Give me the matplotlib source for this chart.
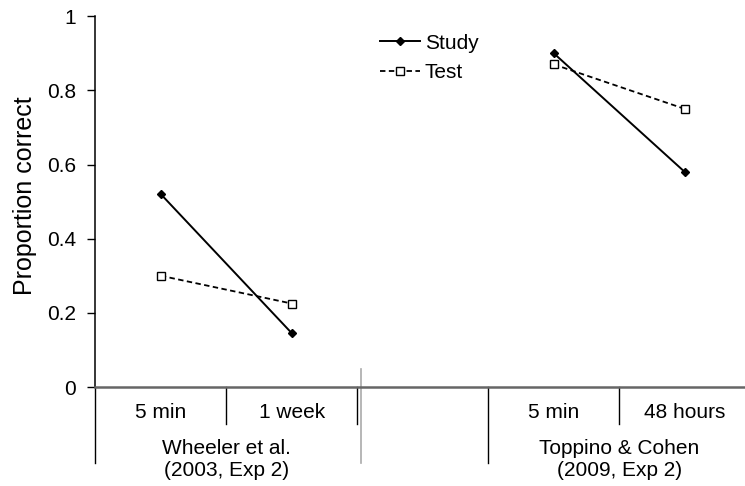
import numpy as np
from matplotlib import pyplot as plt
from matplotlib import transforms

plt.rcParams["font.family"] = ["Liberation Sans", "DejaVu Sans"]

# データ
conditions = ["5 min", "1 week", "", "5 min", "48 hours"]
study = [0.52, 0.145, np.nan, 0.90, 0.58]
test = [0.30, 0.225, np.nan, 0.87, 0.75]
group_labels = ["Wheeler et al.\n(2003, Exp 2)", "Toppino & Cohen\n(2009, Exp 2)"]
group_members = [[0, 1], [3, 4]]
y_ticks = [0, 0.2, 0.4, 0.6, 0.8, 1]
y_tick_labels = ["0", "0.2", "0.4", "0.6", "0.8", "1"]

fig = plt.figure(figsize=(7.45, 4.86), dpi=100)
ax = fig.add_axes((0.128, 0.2037, 0.879, 0.763))

x = np.arange(len(conditions))

# 線の描画
ax.plot(
    x, study,
    color="black", linewidth=1.4,
    marker="D", markersize=4.5, markerfacecolor="black", markeredgewidth=1,
    label="Study", zorder=3,
)
ax.plot(
    x, test,
    color="black", linewidth=1.3, linestyle=(0, (3.0, 1.9)),
    marker="s", markersize=6.3, markerfacecolor="white", markeredgecolor="black",
    markeredgewidth=1, label="Test", zorder=3,
)

# 軸の設定
ax.set_xlim(-0.5, len(conditions) - 0.5)
ax.set_ylim(0, 1)
ax.set_yticks(y_ticks)
ax.set_yticklabels(y_tick_labels)
ax.tick_params(axis="y", direction="out", length=5.8, width=1, pad=8, labelsize=15)
ax.set_xticks([])
ax.spines["top"].set_visible(False)
ax.spines["right"].set_visible(False)
ax.spines["left"].set_linewidth(1.1)
ax.spines["bottom"].set_color("#666666")
ax.spines["bottom"].set_linewidth(1.8)
ax.set_ylabel("Proportion correct", fontsize=18)
ax.yaxis.set_label_coords(-0.089, 0.517)

# 下部のカテゴリラベルと区切り線
trans = transforms.blended_transform_factory(ax.transData, ax.transAxes)
for i, label in enumerate(conditions):
    if label:
        ax.text(i, -0.07, label, transform=trans, ha="center", va="center",
                fontsize=15)

row1 = -0.1
row2 = -0.205
# 各グループの境界
for members in group_members:
    lo, hi = members[0] - 0.5, members[-1] + 0.5
    ax.plot([lo, lo], [0, row2], transform=trans, color="black", linewidth=1,
            clip_on=False)
    for b in np.arange(lo + 1, hi, 1):
        ax.plot([b, b], [0, row1], transform=trans, color="black", linewidth=1,
                clip_on=False)
    ax.plot([hi, hi], [0, row1], transform=trans, color="black", linewidth=1,
            clip_on=False)

# 中央のグレーの線
ax.plot([1.53, 1.53], [0.048, row2], transform=trans, color="#aaaaaa",
        linewidth=1.2, clip_on=False)

for label, members in zip(group_labels, group_members):
    ax.text(np.mean(members), -0.196, label, transform=trans, ha="center",
            va="center", fontsize=15)

ax.legend(
    loc="center left", bbox_to_anchor=(0.434, 0.888), frameon=False,
    fontsize=15, handlelength=1.92, handletextpad=0.25, labelspacing=0.5,
    borderpad=0, borderaxespad=0,
)

fig.savefig("out.png", dpi=100)
